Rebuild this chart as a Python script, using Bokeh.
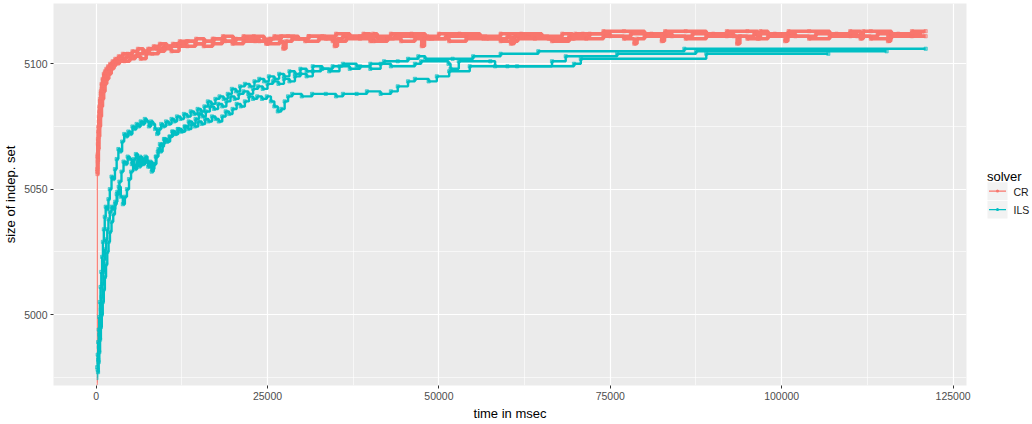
from bokeh.plotting import figure
from bokeh.layouts import row
from bokeh.models import Range1d, FixedTicker, BasicTickFormatter
from bokeh.core.properties import value
from bokeh.embed import file_html
from bokeh.resources import INLINE

# ---------------- data (time in msec, size of independent set) ----------------
SOLVERS = ["CR", "ILS"]
COLORS = {"CR": "#F8766D", "ILS": "#00BFC4"}

CR_RUN1 = [(100,4972),(170,5058),(220,5064),(270,5070),(330,5075),(400,5079),(480,5083),(570,5086),(680,5089),(800,5092),
           (950,5094),(1120,5096),(1300,5097),(1500,5098),(1750,5099),(2050,5100),(2400,5101),(2800,5102),(3300,5103),(3900,5104),
           (4600,5104),(5300,5105),(6100,5106),(6900,5105),(7600,5106),(8400,5107),(9300,5108),(10300,5107),(11200,5108),(12200,5109),
           (13400,5109),(14600,5110),(15800,5109),(17000,5110),(18500,5111),(20000,5110),(21500,5111),(23000,5111),(24500,5110),(24800,5108),
           (25200,5110),(26000,5111),(28000,5111),(29500,5110),(31000,5111),(33000,5111),(35000,5112),(37000,5111),(39000,5112),(40000,5109),
           (40400,5112),(41000,5111),(43000,5112),(46000,5112),(48000,5111),(50000,5112),(53000,5112),(56000,5111),(59000,5112),(62000,5112),
           (65000,5111),(68000,5112),(69500,5110),(69900,5112),(71000,5112),(74000,5113),(77000,5113),(80000,5112),(83000,5113),(86000,5113),
           (89000,5112),(92000,5113),(95000,5113),(96500,5110),(96900,5113),(98000,5112),(101000,5113),(104000,5113),(107000,5112),(110000,5113),
           (111500,5110),(111900,5113),(113000,5113),(116000,5112),(119000,5113),(121000,5113)]

CR_RUN2 = [(120,4973),(200,5056),(260,5061),(330,5066),(420,5071),(520,5075),(640,5079),(780,5083),(930,5086),(1100,5089),
           (1300,5092),(1550,5094),(1850,5096),(2200,5098),(2600,5100),(3100,5101),(3700,5102),(4400,5103),(5200,5103),(6000,5104),
           (6900,5105),(7800,5106),(8800,5106),(9800,5107),(10900,5107),(12000,5108),(13200,5109),(14500,5108),(15800,5109),(17200,5110),
           (18800,5109),(20400,5110),(22000,5110),(23800,5109),(25500,5110),(27000,5111),(29000,5110),(31000,5111),(33500,5110),(34800,5107),
           (35200,5110),(36000,5111),(38500,5111),(41000,5110),(43500,5111),(46000,5111),(48500,5110),(51000,5111),(54000,5111),(57000,5110),
           (60000,5111),(60500,5108),(61000,5111),(63000,5111),(66000,5110),(69000,5111),(72000,5112),(75000,5111),(78000,5112),(81000,5112),
           (82500,5109),(82900,5112),(84000,5111),(87000,5112),(90000,5112),(93000,5111),(96000,5112),(99000,5112),(100500,5109),(100900,5112),
           (102000,5111),(105000,5112),(108000,5112),(111000,5111),(114000,5112),(115500,5109),(115900,5112),(117000,5112),(120500,5112)]

CR_RUN3 = [(90,4972),(160,5057),(210,5063),(260,5068),(320,5073),(390,5077),(470,5081),(560,5085),(670,5088),(800,5090),
           (960,5092),(1150,5094),(1350,5095),(1600,5097),(1900,5098),(2300,5099),(2800,5100),(3400,5101),(4100,5101),(4900,5102),
           (5700,5103),(6500,5102),(7300,5104),(8200,5104),(9100,5105),(10000,5106),(11000,5105),(12100,5107),(13300,5107),(14500,5108),
           (15700,5107),(17000,5108),(18400,5109),(19900,5108),(21500,5109),(23200,5109),(25000,5108),(26800,5109),(27300,5106),(27700,5109),
           (28600,5110),(30500,5109),(32500,5110),(34500,5109),(36500,5110),(38500,5110),(40500,5109),(42500,5110),(44500,5109),(46500,5110),
           (47500,5107),(47900,5110),(49000,5110),(51500,5109),(54000,5110),(56500,5110),(59000,5109),(61500,5110),(64000,5110),(66500,5109),
           (69000,5110),(71500,5110),(74000,5111),(77000,5110),(78500,5108),(78900,5110),(80000,5111),(83000,5111),(86000,5110),(89000,5111),
           (92000,5111),(93500,5108),(93900,5111),(95000,5110),(98000,5111),(101000,5111),(104000,5110),(107000,5111),(110000,5111),(113000,5110),
           (116000,5111),(119000,5111),(121000,5111)]

ILS_RUN1 = [(100,4974),(160,4979),(230,4984),(300,4989),(380,4994),(460,4999),(550,5005),(650,5011),(760,5017),(880,5023),
            (1000,5029),(1130,5034),(1260,5039),(1400,5043),(1600,5042),(1800,5046),(2000,5050),(2250,5055),(2500,5054),(2750,5058),
            (3000,5062),(3250,5066),(3500,5065),(3800,5069),(4100,5072),(4400,5071),(4700,5073),(5000,5072),(5300,5075),(5600,5074),
            (5900,5076),(6200,5075),(6500,5077),(6800,5076),(7100,5078),(7400,5077),(7700,5075),(8000,5077),(8300,5076),(8600,5074),
            (8900,5072),(9200,5074),(9500,5076),(9800,5075),(10200,5077),(10600,5076),(11000,5078),(11400,5077),(11800,5079),(12300,5078),
            (12800,5080),(13300,5079),(13800,5081),(14300,5080),(14800,5082),(15300,5081),(15800,5083),(16300,5085),(16800,5084),(17400,5086),
            (18000,5087),(18600,5086),(19200,5088),(19800,5090),(20400,5089),(21000,5091),(21700,5092),(22400,5091),(23100,5093),(23800,5094),
            (24500,5093),(25200,5095),(26000,5094),(26700,5096),(27400,5095),(28200,5097),(29000,5096),(29800,5098),(30700,5097),(31600,5099),
            (33000,5098),(34500,5099),(36000,5100),(38000,5099),(40000,5100),(42000,5101),(44000,5101),(45500,5102),(47000,5103),(48000,5102),
            (52000,5102),(55000,5103),(59000,5104),(64500,5105),(85800,5106),(121000,5106)]

ILS_RUN2 = [(150,4975),(220,4978),(300,4982),(390,4987),(480,4992),(580,4997),(690,5002),(800,5007),(920,5012),(1050,5017),
            (1180,5022),(1320,5026),(1470,5030),(1630,5034),(1800,5038),(2000,5041),(2250,5043),(2500,5042),(2800,5045),(3100,5049),
            (3400,5053),(3700,5057),(4000,5061),(4300,5060),(4600,5063),(4900,5062),(5200,5060),(5500,5062),(5800,5064),(6100,5061),
            (6400,5063),(6700,5060),(7000,5062),(7300,5061),(7600,5059),(7900,5061),(8200,5058),(8500,5060),(8800,5063),(9100,5066),
            (9400,5065),(9700,5068),(10000,5070),(10400,5069),(10800,5071),(11200,5073),(11600,5072),(12000,5074),(12500,5073),(13000,5075),
            (13500,5077),(14000,5076),(14500,5078),(15000,5080),(15500,5079),(16000,5081),(16600,5083),(17200,5082),(17800,5084),(18400,5083),
            (19000,5085),(19600,5087),(20200,5086),(20800,5088),(21500,5089),(22200,5088),(22900,5090),(23600,5091),(24300,5090),(25000,5092),
            (25800,5093),(26600,5092),(27400,5094),(28200,5093),(29000,5095),(29800,5096),(30700,5095),(31600,5097),(32800,5098),(34000,5097),
            (35500,5099),(37000,5098),(38500,5099),(40000,5098),(41500,5100),(43000,5099),(46500,5100),(47400,5101),(51400,5100),(51700,5098),
            (52900,5101),(57500,5101),(58200,5099),(61400,5099),(69700,5100),(70700,5102),(89000,5104),(106800,5104)]

ILS_RUN3 = [(200,4974),(280,4977),(370,4981),(470,4985),(580,4990),(700,4995),(830,5000),(970,5005),(1120,5010),(1280,5015),
            (1450,5020),(1630,5025),(1820,5029),(2020,5033),(2250,5037),(2500,5040),(2750,5044),(3000,5048),(3300,5051),(3600,5047),
            (3900,5044),(4200,5047),(4500,5050),(4800,5054),(5100,5057),(5400,5060),(5700,5058),(6000,5061),(6300,5059),(6600,5062),
            (6900,5060),(7200,5063),(7500,5061),(7800,5059),(8100,5057),(8400,5060),(8700,5063),(9000,5065),(9300,5068),(9600,5067),
            (9900,5070),(10300,5069),(10700,5071),(11100,5073),(11500,5072),(11900,5074),(12400,5073),(12900,5075),(13400,5074),(13900,5076),
            (14400,5075),(14900,5077),(15400,5076),(15900,5078),(16400,5077),(16900,5079),(17400,5078),(17900,5077),(18400,5079),(18900,5081),
            (19400,5080),(19900,5082),(20500,5084),(21100,5083),(21700,5085),(22300,5087),(22900,5086),(23500,5087),(24200,5086),(24900,5087),
            (25500,5085),(26000,5083),(26500,5081),(27000,5082),(27500,5085),(28000,5087),(28600,5088),(30000,5087),(31500,5088),(33500,5088),
            (35000,5087),(36000,5088),(38000,5088),(39500,5089),(41500,5088),(43000,5089),(44000,5091),(45500,5093),(46500,5094),(48500,5093),
            (49700,5095),(51500,5097),(54500,5099),(60000,5099),(66500,5101),(68500,5103),(76000,5104),(87500,5105),(115300,5105)]

RUNS = {"CR": [CR_RUN1, CR_RUN2, CR_RUN3], "ILS": [ILS_RUN1, ILS_RUN2, ILS_RUN3]}

X_TICKS = [0, 25000, 50000, 75000, 100000, 125000]
X_MINOR = [12500, 37500, 62500, 87500, 112500]
Y_TICKS = [5000, 5050, 5100]
Y_MINOR = [4975, 5025, 5075, 5125]

LEGEND_TITLE = "solver"
FONT = "Liberation Sans"

# ---------------- main panel ----------------
main = figure(width=980, height=424, output_backend="svg", toolbar_location=None,
              x_range=Range1d(-6213, 126955), y_range=Range1d(4971.7, 5124.05),
              min_border_left=53, min_border_right=14, min_border_top=3, min_border_bottom=39)

main.background_fill_color = "#EBEBEB"
main.border_fill_color = "white"
main.outline_line_color = None

main.xaxis.ticker = FixedTicker(ticks=X_TICKS, minor_ticks=X_MINOR)
main.yaxis.ticker = FixedTicker(ticks=Y_TICKS, minor_ticks=Y_MINOR)
main.xaxis.formatter = BasicTickFormatter(use_scientific=False)

for ax in (main.xaxis, main.yaxis):
    ax.axis_line_color = None
    ax.major_tick_line_color = "#333333"
    ax.major_tick_out = 3
    ax.major_tick_in = 0
    ax.minor_tick_line_color = None
    ax.major_label_text_font = FONT
    ax.major_label_text_font_size = "10.5px"
    ax.major_label_text_color = "#4D4D4D"
    ax.major_label_standoff = 2
    ax.axis_label_text_font = FONT
    ax.axis_label_text_font_size = "13px"
    ax.axis_label_text_font_style = "normal"
    ax.axis_label_text_color = "#000000"
    ax.axis_label_standoff = 3

main.xaxis.axis_label = "time in msec"
main.yaxis.axis_label = "size of indep. set"

for g in (main.xgrid, main.ygrid):
    g.grid_line_color = "white"
    g.grid_line_width = 1.2
    g.minor_grid_line_color = "white"
    g.minor_grid_line_width = 0.6

WIDTHS = {"CR": 3.6, "ILS": 2.4}

for s in SOLVERS:
    for run in RUNS[s]:
        t = [a for a, b in run]
        v = [b for a, b in run]
        # the first jump is drawn thin, the rest with the run's line width
        main.step(x=t[:2], y=v[:2], mode="after", line_color=COLORS[s], line_width=1.0, line_alpha=0.6)
        main.step(x=t[1:], y=v[1:], mode="after", line_color=COLORS[s], line_width=WIDTHS[s])
        main.scatter(x=t[1:], y=v[1:], marker="square", size=3.2, fill_color=COLORS[s], fill_alpha=0.45,
                     line_color=COLORS[s], line_width=0.6)

# ---------------- legend panel (drawn in page pixel coordinates) ----------------
leg = figure(width=52, height=424, output_backend="svg", toolbar_location=None,
             x_range=Range1d(980, 1032), y_range=Range1d(424, 0),
             x_axis_location=None, y_axis_location=None,
             min_border_left=0, min_border_right=0, min_border_top=0, min_border_bottom=0)
leg.grid.visible = False
leg.outline_line_color = None
leg.background_fill_color = "white"
leg.border_fill_color = "white"

KEY_LEFT, KEY_RIGHT = 987, 1007
KEY_TOPS = [198.5, 219]
KEY_H = 19.5

leg.text(x=[986.5], y=[191.5], text=[LEGEND_TITLE], text_font=value(FONT), text_font_size="13px",
         text_color="#000000", text_baseline="alphabetic", text_align="left")
for i, s in enumerate(SOLVERS):
    top = KEY_TOPS[i]
    mid = top + KEY_H / 2
    leg.quad(left=[KEY_LEFT], right=[KEY_RIGHT], top=[top], bottom=[top + KEY_H],
             fill_color="#F2F2F2", line_color=None)
    leg.segment(x0=[988.5], y0=[mid], x1=[1005.5], y1=[mid], line_color=COLORS[s], line_width=1.1)
    leg.scatter(x=[997], y=[mid], marker="circle", size=3, fill_color=COLORS[s], line_color=None)
    leg.text(x=[1013], y=[mid + 0.5], text=[s], text_font=value(FONT), text_font_size="10.5px",
             text_color="#1A1A1A", text_baseline="middle", text_align="left")

page = row(main, leg)

open("out.html", "w").write(file_html(page, INLINE))
